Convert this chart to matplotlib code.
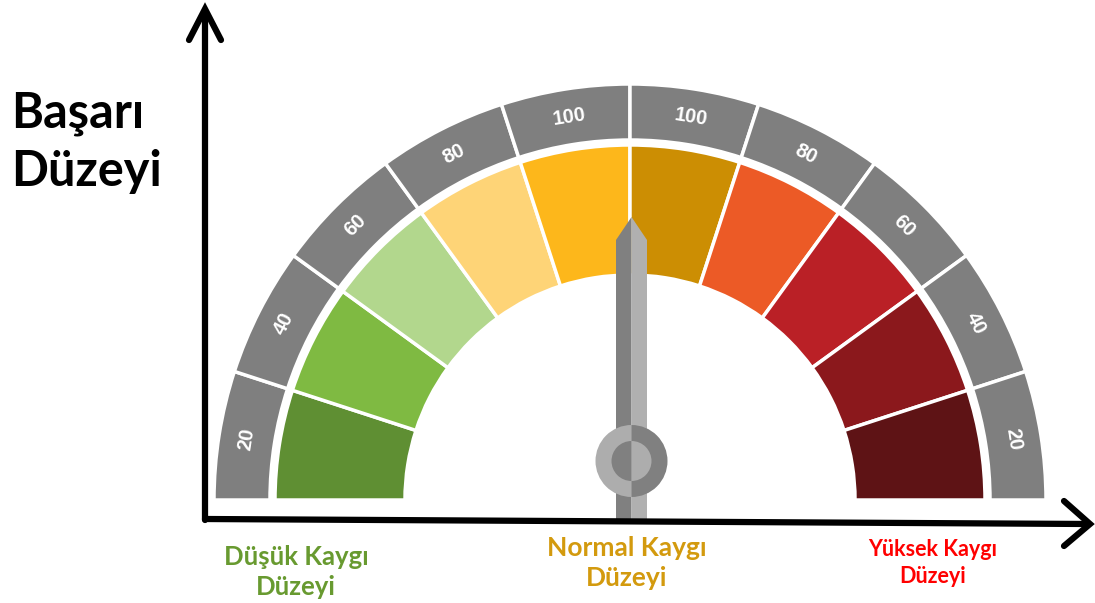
import numpy as np
import matplotlib.pyplot as plt
from matplotlib.patches import Wedge, Polygon

# gauge data (left to right)
scale_labels = [20, 40, 60, 80, 100, 100, 80, 60, 40, 20]
segment_colors = ['#5F8F33', '#7FBA42', '#B2D78D', '#FED477', '#FDB71B',
                  '#CC8E03', '#EC5A26', '#BA2026', '#8B181C', '#5E1315']
needle_value = 50  # 0 = far left, 100 = far right
bottom_labels = ['Düşük Kaygı\nDüzeyi', 'Normal Kaygı\nDüzeyi', 'Yüksek Kaygı\nDüzeyi']
bottom_colors = ['#689A30', '#D39A0E', '#FF0000']
y_title = ['Başarı', 'Düzeyi']

W, H = 1095, 603
def Y(py):
    return H - py

fig = plt.figure(figsize=(W / 100, H / 100), dpi=100)
ax = fig.add_axes([0, 0, 1, 1])
ax.set_xlim(0, W)
ax.set_ylim(0, H)
ax.axis('off')

cx, cy = 630, Y(500)
n = len(scale_labels)
step = 180 / n

for i in range(n):
    t2 = 180 - i * step
    t1 = t2 - step
    ax.add_patch(Wedge((cx, cy), 416, t1, t2, width=56, facecolor='#7F7F7F',
                       edgecolor='white', lw=2.5))
    ax.add_patch(Wedge((cx, cy), 355, t1, t2, width=130, facecolor=segment_colors[i],
                       edgecolor='white', lw=2.5))
    mid = np.radians((t1 + t2) / 2)
    ax.text(cx + 388 * np.cos(mid), cy + 388 * np.sin(mid), str(scale_labels[i]),
            rotation=np.degrees(mid) - 90, rotation_mode='anchor', ha='center', va='center',
            color='white', fontsize=14.5, fontweight='bold', family='Liberation Sans')

# needle
ang = np.radians(180 - needle_value * 1.8)
u = np.array([np.cos(ang), np.sin(ang)])
v = np.array([np.sin(ang), -np.cos(ang)])
c0 = np.array([cx + 1.5, cy])
def P(a, b):
    return tuple(c0 + a * u + b * v)
hw = 15.5
ax.add_patch(Polygon([P(-20, -hw), P(260, -hw), P(283, 0), P(-20, 0)], closed=True,
                     facecolor='#808080', edgecolor='none'))
ax.add_patch(Polygon([P(-20, 0), P(283, 0), P(260, hw), P(-20, hw)], closed=True,
                     facecolor='#B0B0B0', edgecolor='none'))
hub = c0 + 39 * u
base = np.degrees(ang)
ax.add_patch(Wedge(tuple(hub), 36, base, base + 180, facecolor='#ADADAD', edgecolor='none'))
ax.add_patch(Wedge(tuple(hub), 36, base - 180, base, facecolor='#808080', edgecolor='none'))
ax.add_patch(Wedge(tuple(hub), 20, base, base + 180, facecolor='#808080', edgecolor='none'))
ax.add_patch(Wedge(tuple(hub), 20, base - 180, base, facecolor='#ADADAD', edgecolor='none'))

# axes arrows
lw = 4.5
ax.plot([205, 205], [Y(520), Y(10)], color='black', lw=lw, solid_capstyle='round')
ax.plot([189, 205, 221], [Y(40), Y(9), Y(40)], color='black', lw=lw,
        solid_capstyle='round', solid_joinstyle='miter')
ax.plot([205, 1088], [Y(519), Y(524)], color='black', lw=lw, solid_capstyle='round')
ax.plot([1064, 1090, 1064], [Y(501), Y(524), Y(546)], color='black', lw=lw,
        solid_capstyle='round', solid_joinstyle='miter')

fam = ['Lato', 'DejaVu Sans']
ax.text(11, Y(127), y_title[0], fontsize=35, fontweight='bold', family=fam, ha='left', va='baseline')
ax.text(11, Y(186), y_title[1], fontsize=35, fontweight='bold', family=fam, ha='left', va='baseline')

label_pos = [(296, 572, 18.5), (627, 563, 19), (933, 563, 15.5)]
for (x, y, fs), txt, col in zip(label_pos, bottom_labels, bottom_colors):
    ax.text(x, Y(y), txt, color=col, fontsize=fs, fontweight='bold', family=fam,
            ha='center', va='center', linespacing=1.3)

fig.savefig('out.png', dpi=100)
